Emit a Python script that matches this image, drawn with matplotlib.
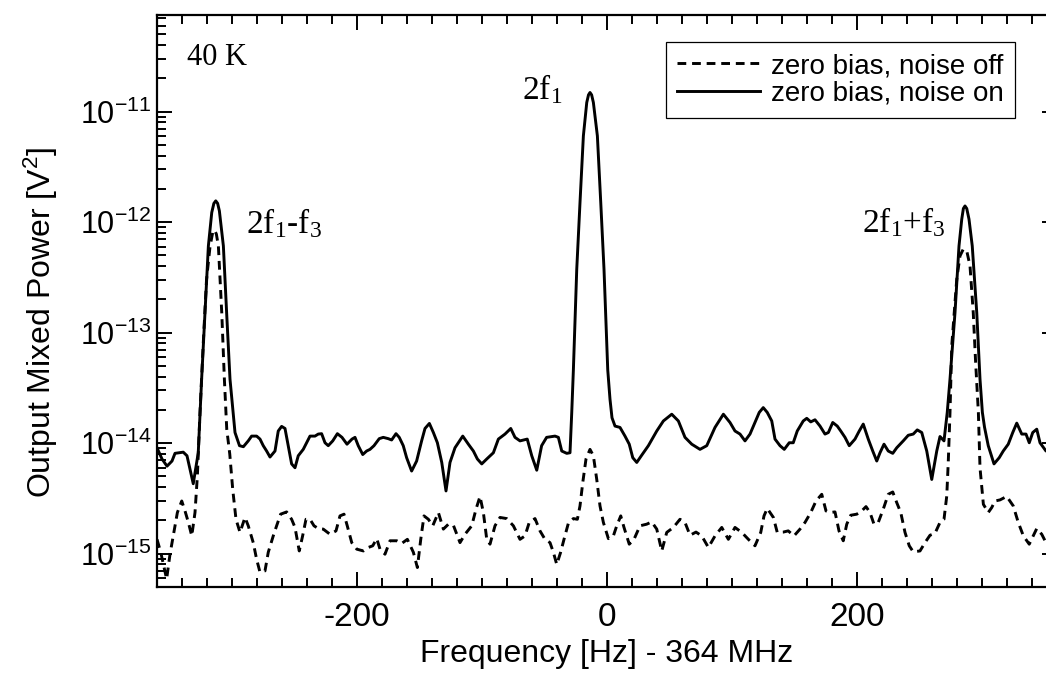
import numpy as np
import matplotlib
matplotlib.use("Agg")
import matplotlib.pyplot as plt
from matplotlib.ticker import MultipleLocator, FixedLocator, LogLocator, NullFormatter

plt.rcParams['font.family'] = ['Liberation Sans', 'DejaVu Sans']
plt.rcParams['axes.unicode_minus'] = False

# frequency offsets [Hz] and mixed power in units of 1e-15 V^2
freq_on = [-360, -356, -352, -348, -345.6, -339, -336, -331, -327, -324.3,
           -321.6, -318.9, -316.2, -314.5, -313, -311.5, -310.1, -306.9, -304.3, -301.6,
           -297.6, -294, -290.9, -287, -284.3, -280.3, -277.6, -275, -272.3, -269.6,
           -265.6, -263, -260.3, -257.6, -255, -252.3, -249.6, -247, -243, -240.3,
           -237.6, -233.6, -231, -228.3, -225.6, -223, -219.4, -215.7, -212, -208,
           -204, -201.6, -199, -195.4, -192.3, -189.6, -186.4, -182.2, -179, -175,
           -172.3, -168.8, -166.2, -163, -160.3, -156.3, -152.3, -148.3, -145.6, -142.1,
           -138.9, -135.7, -132.2, -128.8, -125.6, -121.6, -115.4, -110.9, -106.9, -103.7,
           -100.2, -96.2, -90.9, -86.9, -81.6, -77, -73.6, -69.6, -63.8, -60.2,
           -56.2, -52.3, -48.3, -41.6, -38.9, -36.2, -32.2, -29.6, -28.2, -26.9,
           -24.2, -21.6, -18.9, -16.2, -14.8, -13.6, -12.3, -10.9, -7.7, -5.0,
           -2.4, 0.6, 2.4, 4.0, 6.4, 10.4, 14.4, 17.8, 20.6, 23.8,
           27.8, 33.1, 39.8, 45.1, 51.8, 57.1, 62.4, 67.8, 74.4, 79.8,
           86.4, 93.1, 98.4, 102.4, 106.4, 110.4, 114.4, 118.4, 121.8, 125,
           128.2, 131.8, 134.4, 138.4, 141.8, 145.8, 149, 152.2, 157, 159.8,
           163, 166.4, 170.4, 174.4, 177.1, 180.6, 184.2, 187, 190.4, 193.8,
           198.4, 201.8, 205, 209, 212.6, 215.8, 218.4, 221.6, 225, 228.6,
           231.8, 237, 241, 245, 248.2, 251.8, 255.8, 259.8, 263.8, 266.4,
           269.6, 272.2, 274.4, 278.4, 281.6, 283.8, 285.1, 286.4, 287.8, 289.6,
           292.2, 295.8, 298.4, 300.3, 302, 305, 309.6, 313.8, 317, 321,
           324.6, 327.8, 331.8, 335.2, 337.8, 340.6, 343.8, 346.4, 351.2, 356,
           360]
power_on = [9.1, 7.2, 6.2, 6.9, 8.1, 8.3, 7.7, 4.3, 8.2, 38,
            152, 610, 1224, 1480, 1560, 1480, 1266, 610, 152, 38,
            12.5, 9.5, 9.3, 10.5, 11.6, 11.6, 10.9, 9.5, 8.5, 7.5,
            8.5, 12.9, 14.2, 13.6, 9.5, 6.5, 6.0, 7.7, 8.8, 10.1,
            11.6, 11.6, 12.1, 12.2, 10.1, 9.5, 10.5, 12.2, 11.3, 9.8,
            10.9, 11.3, 9.5, 7.9, 8.5, 8.8, 9.5, 11.0, 11.3, 11.0,
            10.7, 12.2, 11.3, 9.5, 7.4, 5.6, 6.9, 10.5, 13.6, 15.1,
            12.5, 10.1, 6.7, 3.7, 6.7, 9.1, 11.6, 9.8, 8.5, 7.2,
            6.5, 7.2, 8.2, 10.9, 12.1, 13.6, 11.3, 10.5, 10.9, 7.7,
            5.7, 9.5, 11.3, 11.6, 11.3, 8.5, 8.1, 8.2, 19, 46,
            376, 1507, 6040, 12110, 14200, 14920, 14200, 12110, 6040, 1507,
            376, 46, 25, 17, 14.3, 13.9, 11.6, 9.8, 7.4, 6.7,
            7.8, 9.5, 12.9, 15.9, 18.3, 15.9, 11.3, 9.8, 8.8, 9.5,
            13.9, 18.3, 15.4, 12.9, 12.1, 10.5, 12.1, 15.4, 19.0, 21.0,
            19.0, 15.9, 10.9, 9.5, 8.8, 10.1, 10.1, 12.9, 15.9, 16.8,
            15.6, 16.3, 14.3, 12.1, 12.5, 15.4, 14.3, 12.9, 11.3, 9.5,
            10.9, 12.9, 14.9, 10.9, 8.5, 6.9, 8.2, 9.8, 8.5, 8.1,
            9.1, 10.5, 11.8, 12.1, 13.2, 12.5, 8.5, 4.7, 8.5, 11.5,
            10.5, 19.0, 38, 152, 610, 1065, 1330, 1403, 1330, 1065,
            610, 152, 38, 19, 14, 9.5, 6.5, 7.4, 8.5, 9.8,
            12.5, 15.2, 12.1, 12.1, 10.1, 12.5, 13.4, 10.1, 8.5, 9.0,
            9.5]

freq_off = [-360, -357, -352.3, -349.6, -347, -343.7, -340.2, -337.6, -334.9, -332.2,
            -329.6, -327.7, -325.6, -323, -320.4, -317.6, -315.5, -314, -312.5, -310.9,
            -308.2, -306.1, -304.2, -301.8, -299.4, -296.8, -293.6, -289.6, -287, -283,
            -280.3, -277.6, -273.6, -271, -267, -264.3, -261.1, -256.3, -252.3, -249.6,
            -246.2, -243.5, -240.8, -237.6, -234.4, -231, -227, -221.6, -216.8, -213.6,
            -210.4, -207.8, -204.2, -200.2, -194.9, -190.9, -187.4, -184.2, -181.6, -177.6,
            -173.6, -168.2, -164.2, -159.7, -154.9, -151.7, -149, -146.4, -142.9, -139.4,
            -134.9, -130.9, -126.9, -122.9, -117.6, -113.6, -108.2, -104.8, -101.6, -98.9,
            -96.2, -93.6, -89.6, -85.6, -80.2, -74.9, -69.6, -65.6, -62.2, -57.6,
            -53.6, -49.6, -45.6, -42.9, -40.2, -37.1, -34.4, -30.9, -26.9, -23.7,
            -21.6, -19.4, -16.8, -13.6, -10.9, -8.2, -5.6, -2.9, 1.1, 5.1,
            7.8, 11, 13.6, 17.8, 21.6, 26.4, 31.7, 35.8, 39.8, 43.8,
            47.8, 53.1, 58.4, 62.4, 66.4, 71.2, 75.8, 81.1, 86.4, 91.8,
            97.1, 102.4, 107.8, 113.1, 118.4, 123, 125.6, 128.2, 133.1, 136.2,
            141, 145, 149.6, 154.4, 158.4, 163, 167.2, 171.8, 175.2, 178.4,
            182.4, 185.6, 189, 191.8, 195, 199.8, 203.8, 207.2, 210.4, 213.6,
            217, 221, 225, 228.6, 231.8, 235, 238.4, 241.8, 245, 250.4,
            254.4, 258.4, 262.4, 266.4, 269.6, 271.8, 273, 274.4, 275.8, 279.8,
            282.4, 285, 287.8, 290.4, 293, 294.9, 297.1, 298.4, 301.1, 305,
            307.8, 310.4, 314.4, 319.8, 325, 329, 333.1, 337.8, 341, 343.8,
            347.8, 351.2, 356, 360]
power_off = [1.35, 1.03, 0.59, 0.99, 1.45, 2.36, 3.0, 2.44, 1.92, 1.45,
             2.36, 5.06, 19, 80, 300, 600, 800, 850, 780, 610,
             152, 38, 13.4, 8, 3.8, 2.05, 1.56, 2.13, 1.79, 1.26,
             0.89, 0.68, 0.70, 1.03, 1.45, 1.79, 2.28, 2.39, 2.05, 1.73,
             1.06, 1.45, 2.05, 2.05, 1.79, 1.69, 1.67, 1.5, 1.61, 2.2,
             2.28, 1.79, 1.26, 1.1, 1.06, 1.14, 1.18, 1.37, 1.1, 0.99,
             1.31, 1.31, 1.24, 1.35, 1.03, 0.75, 1.35, 2.2, 2.05, 1.79,
             2.36, 1.67, 1.85, 1.81, 1.26, 1.5, 1.79, 2.53, 3.3, 2.36,
             1.35, 1.22, 1.79, 2.13, 2.08, 1.79, 1.35, 1.45, 1.92, 2.08,
             1.61, 1.35, 1.26, 1.03, 0.80, 1.03, 1.35, 1.89, 2.08, 2.05,
             2.71, 4.4, 7.2, 8.8, 7.7, 4.7, 2.71, 1.92, 1.37, 1.45,
             1.79, 2.2, 1.73, 1.22, 1.35, 1.79, 1.85, 1.94, 1.67, 1.06,
             1.56, 1.73, 2.05, 1.92, 1.47, 1.57, 1.45, 1.14, 1.45, 1.73,
             1.35, 1.73, 1.56, 1.35, 1.18, 1.56, 2.2, 2.57, 2.13, 1.56,
             1.57, 1.61, 1.45, 1.67, 1.92, 2.36, 3.0, 3.45, 2.44, 2.36,
             2.39, 1.61, 1.31, 1.85, 2.23, 2.28, 2.44, 2.67, 2.36, 1.85,
             1.92, 2.53, 3.45, 3.62, 2.9, 2.36, 1.56, 1.18, 1.04, 1.06,
             1.26, 1.47, 1.53, 1.92, 2.05, 3.33, 6.7, 19, 76, 305,
             495, 570, 550, 403, 152, 54, 19, 6, 2.8, 2.36,
             2.62, 3.0, 3.07, 3.3, 2.71, 1.92, 1.45, 1.22, 1.45, 1.69,
             1.5, 1.26, 1.1, 1.0]

unit = 1e-15
labels = ["zero bias, noise off", "zero bias, noise on"]
y_major = [1e-15, 1e-14, 1e-13, 1e-12, 1e-11]

fig = plt.figure(figsize=(10.46, 6.75), dpi=100)
ax = fig.add_axes([157/1046, 88/675, 900/1046, 572/675])

ax.plot(freq_off, np.array(power_off) * unit, color='black', lw=2.1,
        linestyle=(0, (3.0, 2.0)), label=labels[0])
ax.plot(freq_on, np.array(power_on) * unit, color='black', lw=2.1,
        linestyle='-', label=labels[1])

ax.set_yscale('log')
ax.set_xlim(-360, 360)
ax.set_ylim(5e-16, 7.5e-11)

ax.xaxis.set_major_locator(MultipleLocator(200))
ax.xaxis.set_minor_locator(MultipleLocator(20))
ax.yaxis.set_major_locator(FixedLocator(y_major))
ax.yaxis.set_minor_locator(LogLocator(base=10, subs=np.arange(2, 10), numticks=20))
ax.yaxis.set_minor_formatter(NullFormatter())

ax.tick_params(which='both', direction='in', top=True, right=True, width=1.4)
ax.tick_params(which='major', length=11)
ax.tick_params(which='minor', length=6.5)
ax.tick_params(axis='x', which='major', pad=11, labelsize=24)
ax.tick_params(axis='y', which='major', pad=4, labelsize=22)
for sp in ax.spines.values():
    sp.set_linewidth(1.6)

ax.set_xlabel("Frequency [Hz] - 364 MHz", fontsize=23, labelpad=4)
ax.set_ylabel(r"Output Mixed Power [V$\mathregular{^2}$]", fontsize=23)
ax.yaxis.set_label_coords(-0.108, 0.463)

serif = ['Liberation Serif', 'DejaVu Serif']
ax.text(0.033, 0.913, "40 K", transform=ax.transAxes, family=serif, fontsize=22)
ax.text(0.099, 0.619, r"2f$\mathregular{_1}$-f$\mathregular{_3}$", transform=ax.transAxes,
        family=serif, fontsize=24)
ax.text(0.406, 0.853, r"2f$\mathregular{_1}$", transform=ax.transAxes,
        family=serif, fontsize=24)
ax.text(0.783, 0.621, r"2f$\mathregular{_1}$+f$\mathregular{_3}$", transform=ax.transAxes,
        family=serif, fontsize=24)

leg = ax.legend(loc='upper right', bbox_to_anchor=(0.9533, 0.9528), borderaxespad=0,
                fontsize=20, handlelength=3.0, handletextpad=0.4, labelspacing=0.05,
                fancybox=False, framealpha=1, edgecolor='black', borderpad=0.4)
leg.get_frame().set_linewidth(0.9)

fig.savefig("out.png", dpi=100)
